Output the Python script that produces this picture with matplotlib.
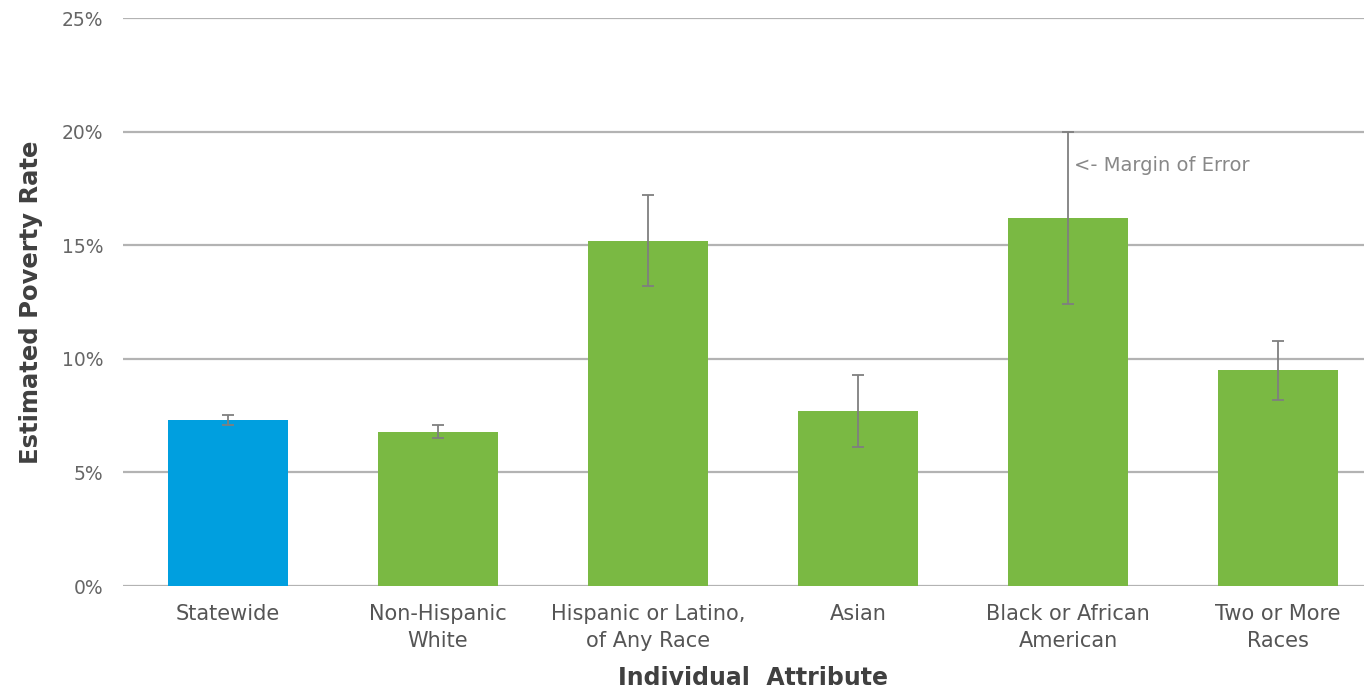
import matplotlib
matplotlib.use("Agg")
import matplotlib.pyplot as plt
import numpy as np

categories = ["Statewide", "Non-Hispanic\nWhite", "Hispanic or Latino,\nof Any Race",
              "Asian", "Black or African\nAmerican", "Two or More\nRaces"]
values = [7.3, 6.8, 15.2, 7.7, 16.2, 9.5]
errors = [0.22, 0.3, 2.0, 1.6, 3.8, 1.3]
colors = ["#009FDF", "#7AB943", "#7AB943", "#7AB943", "#7AB943", "#7AB943"]
yticks = [0, 5, 10, 15, 20, 25]

plt.rcParams['font.family'] = ['DejaVu Sans']

fig = plt.figure(figsize=(13.64, 6.94), dpi=100)
ax = fig.add_axes([123/1364, 108/694, 1260/1364, 568/694])

x = np.arange(len(categories))
ax.bar(x, values, width=0.57, color=colors, zorder=3)
ax.errorbar(x, values, yerr=errors, fmt='none', ecolor='#7f7f7f',
            elinewidth=1.3, capsize=4, capthick=1.3, zorder=4)

ax.set_xlim(-0.5, 5.5)
ax.set_ylim(0, 25)
ax.set_yticks(yticks)
ax.set_yticklabels([f"{t}%" for t in yticks], color='#666666', fontsize=13.5)
ax.set_xticks(x)
ax.set_xticklabels(categories, color='#555555', fontsize=15, linespacing=1.42)
ax.tick_params(axis='y', length=0, pad=14)
ax.tick_params(axis='x', length=0, pad=13)
ax.yaxis.grid(True, color='#b3b3b3', linewidth=1.6, zorder=0)
ax.set_axisbelow(True)
for s in ax.spines.values():
    s.set_visible(False)

ax.set_ylabel("Estimated Poverty Rate", fontsize=17.5, fontweight='bold',
              color='#404040', labelpad=14)
ax.set_xlabel("Individual  Attribute", fontsize=17, fontweight='bold',
              color='#404040', labelpad=11)

ax.text(4.03, 18.5, "<- Margin of Error", fontsize=14, color='#888888',
        va='center', ha='left')

fig.savefig("out.png", dpi=100)
